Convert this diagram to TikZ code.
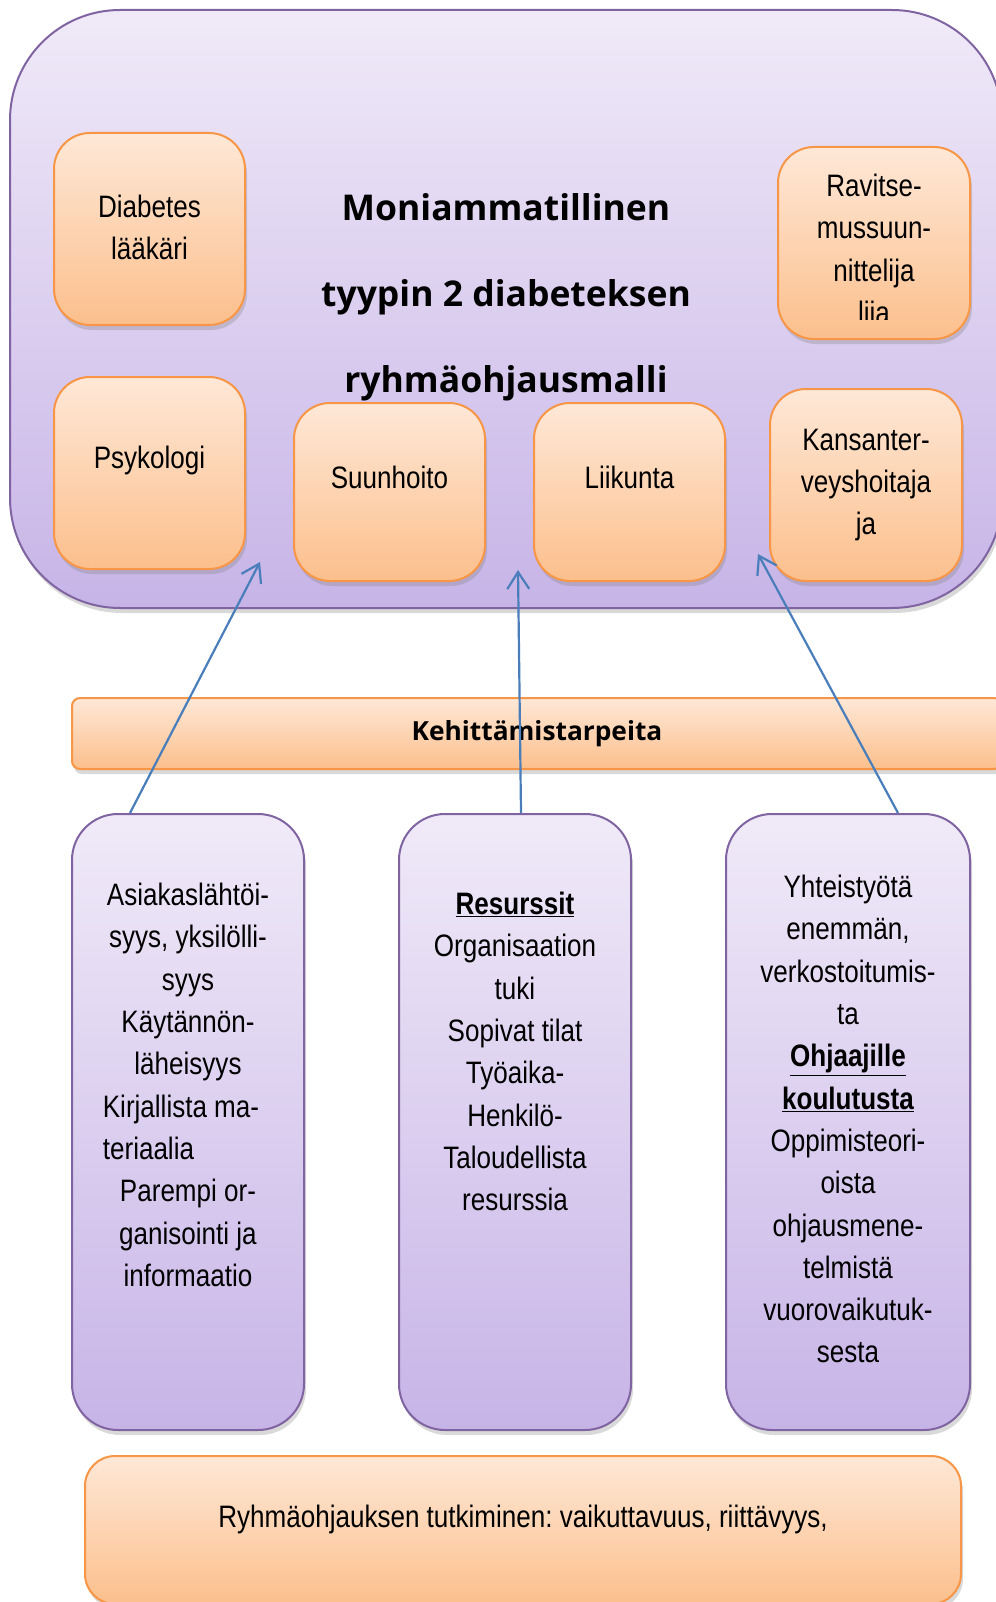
\documentclass[tikz,border=0pt]{standalone}
\usepackage{fontspec}
\setmainfont{Liberation Sans}[FakeStretch=0.84]
\newfontfamily\headfont{Open Sans}
\usetikzlibrary{positioning,shadows,arrows.meta}

\definecolor{lilaline}{HTML}{8064A2}
\definecolor{lilatop}{HTML}{F0EAF8}
\definecolor{lilabot}{HTML}{C7B4E7}
\definecolor{oraline}{HTML}{F79646}
\definecolor{oratop}{HTML}{FEE8D7}
\definecolor{orabot}{HTML}{FCBF8C}
\definecolor{tipblue}{HTML}{4A7EBB}

\tikzset{
  lila/.style={draw=lilaline,line width=2pt,top color=lilatop,bottom color=lilabot,
    drop shadow={opacity=.3,shadow xshift=2pt,shadow yshift=-5pt}},
  ora/.style={draw=oraline,line width=2pt,top color=oratop,bottom color=orabot,
    drop shadow={opacity=.3,shadow xshift=2pt,shadow yshift=-5pt}},
  role/.style={ora,rounded corners=36pt,minimum width=191pt,minimum height=192pt,
    align=center,font=\fontsize{31}{42.3}\selectfont},
  need/.style={lila,rounded corners=46pt,minimum width=232pt,minimum height=616pt},
  col/.style={align=center,inner sep=0pt,font=\fontsize{31}{42.3}\selectfont},
  tip/.style={tipblue,line width=2.2pt,-{Straight Barb[length=17pt,width=22pt,line width=2.2pt]}}
}

\begin{document}
\frenchspacing
\begin{tikzpicture}[x=1pt,y=-1pt]
  \useasboundingbox (0,0) rectangle (995,1602);

  \node[lila,rounded corners=110pt,minimum width=992pt,minimum height=598pt] (frame) at (506,309) {};
  \node[font=\headfont\bfseries\fontsize{35.5}{86}\selectfont,align=center] (title) at (506,297)
    {Moniammatillinen\\tyypin 2 diabeteksen\\ryhmäohjausmalli};

  \node[role] (dl) at (149.5,229) {Diabetes\\lääkäri\rule[-4pt]{0pt}{0pt}};
  \node[role,below=50pt of dl.south,anchor=north] (psy) {\raisebox{5pt}[0pt][0pt]{Psykologi}};
  \node[role,minimum height=178pt] (suu) at (389.5,492) {\raisebox{4pt}[0pt][0pt]{Suunhoito}};
  \node[role,minimum height=178pt,right=47pt of suu] (lii) {\raisebox{4pt}[0pt][0pt]{Liikunta}};
  \node[role,minimum width=192pt] (kan) at (866,485) {Kansanter-\\veyshoitaja\\ja};
  \node[role,minimum width=192pt] (rav) at (874,243) {};
  \begin{scope}
    \clip (rav.north west) rectangle ([yshift=21pt]rav.south east);
    \node[col] (ravtext) at (874,249) {Ravitse-\\mussuun-\\nittelija\\liia};
  \end{scope}

  \node[ora,rounded corners=8pt,minimum width=930pt,minimum height=71pt,
    font=\headfont\bfseries\fontsize{26.3}{30}\selectfont] (kehi) at (537,733.5) {Kehittämistarpeita};

  \node[need] (b1) at (188,1122) {};
  \node[need,right=93pt of b1] (b2) {};
  \node[need,minimum width=244pt,right=93pt of b2] (b3) {};

  \node[col,below=70pt of b1.north] (b1text)
    {Asiakaslähtöi-\\syys, yksilölli-\\syys\\Käytännön-\\läheisyys\\Kirjallista ma-\rule{14pt}{0pt}\\
     \rlap{teriaalia}\phantom{Kirjallista ma-}\rule{14pt}{0pt}\\Parempi or-\\ganisointi ja\\informaatio};
  \node[col,below=79pt of b2.north] (b2text)
    {\textbf{\underline{Resurssit}}\\Organisaation\\tuki\\Sopivat tilat\\Työaika-\\Henkilö-\\
     Taloudellista\\resurssia};
  \node[col,below=62pt of b3.north] (b3text)
    {Yhteistyötä\\enemmän,\\verkostoitumis-\\ta\\\textbf{\underline{Ohjaajille}}\\
     \textbf{\underline{koulutusta}}\\Oppimisteori-\\oista\\ohjausmene-\\telmistä\\
     vuorovaikutuk-\\sesta};

  \node[ora,rounded corners=30pt,minimum width=876pt,minimum height=148pt,
    font=\fontsize{31}{42.3}\selectfont] (study) at (523,1530)
    {\raisebox{3pt}[0pt][0pt]{Ryhmäohjauksen tutkiminen: vaikuttavuus, riittävyys,}};

  \coordinate (t1) at (260,562);
  \coordinate (t2) at (518,570);
  \coordinate (t3) at (758,554);
  \draw[tip] ([xshift=59pt]b1.north west) -- (t1);
  \draw[tip] ([xshift=6pt]b2.north) -- (t2);
  \draw[tip] ([xshift=173pt]b3.north west) -- (t3);
\end{tikzpicture}
\end{document}
